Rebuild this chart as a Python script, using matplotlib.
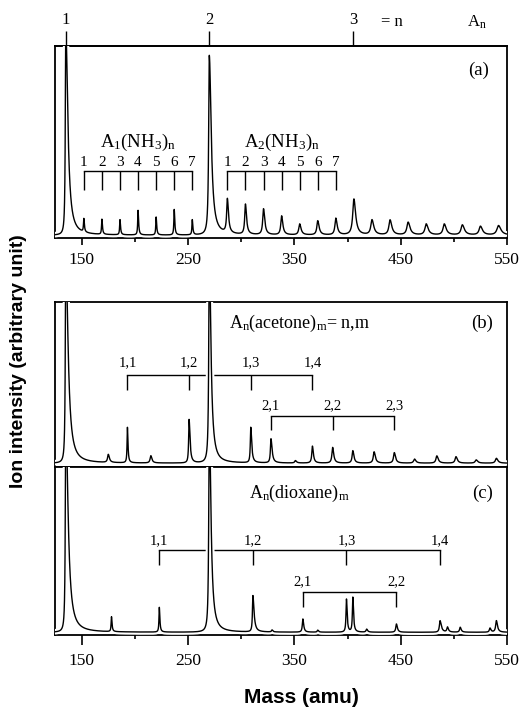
import numpy as np
import matplotlib.pyplot as plt
import matplotlib.patheffects as pe

plt.rcParams['font.family'] = ['Liberation Serif', 'DejaVu Serif']
plt.rcParams['mathtext.default'] = 'regular'

# peak lists: mass (amu), relative height,
# half width (amu) and right-side tail factor
mass_a = [135, 152, 169, 186, 203, 220, 237, 254, 270, 287, 304, 321, 338,
          355, 372, 389, 406, 423, 440, 457, 474, 491, 508, 525, 542]
height_a = [1.10, 0.07, 0.08, 0.08, 0.13, 0.095, 0.135, 0.08, 0.95, 0.18,
            0.16, 0.137, 0.10, 0.058, 0.075, 0.088, 0.19, 0.079, 0.079,
            0.067, 0.058, 0.058, 0.053, 0.046, 0.05]
width_a = [0.5, 0.4, 0.4, 0.4, 0.4, 0.4, 0.4, 0.4, 0.7, 0.8, 0.8, 0.9, 0.9,
           1.0, 1.0, 1.0, 1.3, 1.3, 1.3, 1.4, 1.4, 1.4, 1.5, 1.5, 1.8]
tail_a = [4.5, 1.5, 1.5, 1.5, 1.5, 1.5, 1.5, 1.5, 3, 1.5, 1.5, 1.5, 1.5, 1.5,
          1.5, 1.5, 1.5, 1.5, 1.5, 1.5, 1.5, 1.5, 1.5, 1.5, 1.5]

mass_b = [135, 175, 193, 215, 251, 270, 309, 328, 351, 367, 386, 405, 425,
          444, 463, 484, 502, 521, 540]
height_b = [1.3, 0.05, 0.22, 0.045, 0.27, 1.3, 0.22, 0.15, 0.015, 0.105,
            0.097, 0.077, 0.07, 0.065, 0.025, 0.045, 0.04, 0.02, 0.03]
width_b = [0.5, 0.8, 0.4, 0.8, 0.5, 0.6, 0.5, 0.6, 0.8, 0.7, 0.8, 0.8, 0.9,
           0.9, 1.0, 1.0, 1.0, 1.1, 1.1]
tail_b = [5, 1.5, 1.5, 1.5, 2, 3, 2, 2, 1.5, 1.5, 1.5, 1.5, 1.5, 1.5, 1.5,
          1.5, 1.5, 1.5, 1.5]

mass_c = [135, 178, 223, 270, 311, 329, 358, 372, 399, 405, 418, 446, 487,
          494, 506, 534, 540]
height_c = [1.3, 0.09, 0.15, 1.3, 0.22, 0.012, 0.08, 0.012, 0.20, 0.21,
            0.018, 0.05, 0.07, 0.03, 0.03, 0.025, 0.07]
width_c = [0.5, 0.4, 0.4, 0.6, 0.5, 0.6, 0.6, 0.6, 0.5, 0.5, 0.7, 0.7, 0.7,
           0.7, 0.7, 0.7, 0.8]
tail_c = [5, 1.5, 1.5, 3, 2.5, 1.5, 1.5, 1.5, 1.5, 1.5, 1.5, 1.5, 2, 1.5,
          1.5, 1.5, 1.5]

# cluster assignments
top_mass = [135, 270, 405]
top_labels = ['1', '2', '3']
nh3_a1 = [152, 169, 186, 203, 220, 237, 254]
nh3_a2 = [287, 304, 321, 338, 355, 372, 389]
nh3_labels = ['1', '2', '3', '4', '5', '6', '7']
acet_a1 = [193, 251, 309, 367]
acet_a1_labels = ['1,1', '1,2', '1,3', '1,4']
acet_a2 = [328, 386, 444]
acet_a2_labels = ['2,1', '2,2', '2,3']
diox_a1 = [223, 311, 399, 487]
diox_a1_labels = ['1,1', '1,2', '1,3', '1,4']
diox_a2 = [358, 446]
diox_a2_labels = ['2,1', '2,2']

x_lo, x_hi = 125, 550


def spectrum(masses, heights, widths, tails):
    x = np.arange(x_lo, x_hi + 0.01, 0.05)
    y = np.zeros_like(x)
    for m, h, w, t in zip(masses, heights, widths, tails):
        ww = np.where(x < m, w, w * t)
        y += h * ww ** 2 / ((x - m) ** 2 + ww ** 2)
    return x, y


def bracket(ax, pos, labels, y_line, y_tick, y_text, fs=11):
    ax.plot([pos[0], pos[-1]], [y_line, y_line], color='k', lw=1)
    ax.vlines(pos, y_tick, y_line, color='k', lw=1)
    for p, t in zip(pos, labels):
        ax.text(p, y_text, t, ha='center', va='center', fontsize=fs)


fig = plt.figure(figsize=(5.2, 7.09), dpi=100)
ax_a = fig.add_axes([0.106, 0.664, 0.869, 0.271])
ax_b = fig.add_axes([0.106, 0.341, 0.869, 0.233])
ax_c = fig.add_axes([0.106, 0.104, 0.869, 0.237])

white = [pe.withStroke(linewidth=4, foreground='white')]
for ax, data, lo in [(ax_a, (mass_a, height_a, width_a, tail_a), -0.016),
                     (ax_b, (mass_b, height_b, width_b, tail_b), -0.025),
                     (ax_c, (mass_c, height_c, width_c, tail_c), -0.018)]:
    xs, ys = spectrum(*data)
    ax.plot(xs, ys, color='k', lw=1.0, path_effects=white, zorder=3)
    ax.set_xlim(x_lo, x_hi)
    ax.set_ylim(lo, 1.0)
    ax.set_yticks([])
    for s in ax.spines.values():
        s.set_linewidth(1.3)

for ax, tl in [(ax_a, 5), (ax_c, 7.5)]:
    ax.set_xticks([150, 250, 350, 450, 550])
    ax.set_xticks([200, 300, 400, 500], minor=True)
    ax.tick_params(axis='x', which='major', direction='out', length=tl,
                   width=1.2, pad=5, labelsize=12.5)
    ax.tick_params(axis='x', which='minor', direction='out', length=3,
                   width=1.2)
ax_b.set_xticks([])

# panel (a): top axis with cluster size n
sec = ax_a.secondary_xaxis('top')
sec.set_xticks(top_mass, labels=top_labels)
sec.tick_params(direction='out', length=11, width=1, pad=2, labelsize=12)
sec.spines['top'].set_linewidth(1.3)
ax_a.text(442, 1.125, '= n', transform=ax_a.get_xaxis_transform(),
          ha='center', va='center', fontsize=12)
ax_a.text(522, 1.125, 'A$_n$', transform=ax_a.get_xaxis_transform(),
          ha='center', va='center', fontsize=12)

bracket(ax_a, nh3_a1, nh3_labels, 0.3385, 0.238, 0.386)
bracket(ax_a, nh3_a2, nh3_labels, 0.3385, 0.238, 0.386)
ax_a.text(np.mean(nh3_a1), 0.492, 'A$_1$(NH$_3$)$_n$', ha='center',
          va='center', fontsize=13.5)
ax_a.text(np.mean(nh3_a2), 0.492, 'A$_2$(NH$_3$)$_n$', ha='center',
          va='center', fontsize=13.5)
ax_a.text(523, 0.873, '(a)', ha='center', va='center', fontsize=13.5)

bracket(ax_b, acet_a1, acet_a1_labels, 0.546, 0.453, 0.621, fs=10.5)
bracket(ax_b, acet_a2, acet_a2_labels, 0.292, 0.205, 0.354, fs=10.5)
ax_b.text(355, 0.87, 'A$_n$(acetone)$_m$= n,m', ha='center', va='center',
          fontsize=13)
ax_b.text(527, 0.87, '(b)', ha='center', va='center', fontsize=13.5)

bracket(ax_c, diox_a1, diox_a1_labels, 0.497, 0.406, 0.558, fs=10.5)
bracket(ax_c, diox_a2, diox_a2_labels, 0.243, 0.152, 0.309, fs=10.5)
ax_c.text(355, 0.842, 'A$_n$(dioxane)$_m$', ha='center', va='center',
          fontsize=13)
ax_c.text(527, 0.842, '(c)', ha='center', va='center', fontsize=13.5)

fig.text(0.035, 0.49, 'Ion intensity (arbitrary unit)', rotation=90,
         ha='center', va='center', fontsize=14, fontweight='bold',
         family=['Liberation Sans', 'DejaVu Sans'])
fig.text(0.58, 0.016, 'Mass (amu)', ha='center', va='center', fontsize=15,
         fontweight='bold', family=['Liberation Sans', 'DejaVu Sans'])

fig.savefig('out.png', dpi=100)
